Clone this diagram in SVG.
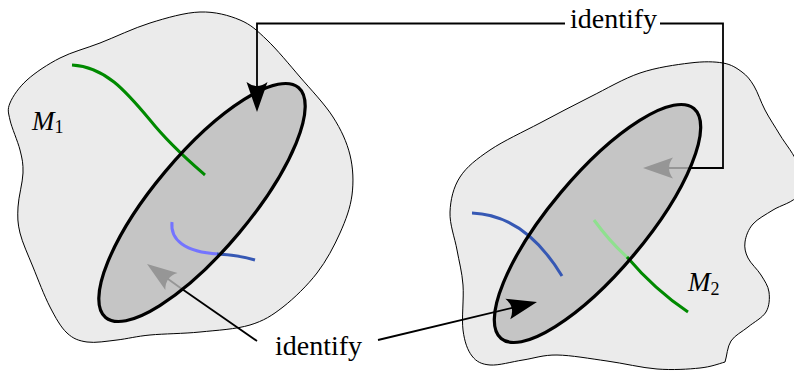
<svg xmlns="http://www.w3.org/2000/svg" width="794" height="374" viewBox="0 0 794 374">
<style>
.blob{fill:#ebebeb;stroke:#000;stroke-width:1}
.disc{fill:#c5c5c5;stroke:none}
.rim{fill:none;stroke:#000;stroke-width:3.2}
.curve{fill:none;stroke-width:3;stroke-linecap:butt}
.conn{fill:none;stroke:#000;stroke-width:1.8}
.connG{fill:none;stroke:#969696;stroke-width:1.8}
.lbl{font-family:"Liberation Serif","Times New Roman",serif;font-size:28px;fill:#000}
.math{font-family:"Liberation Serif","Times New Roman",serif;font-size:27px;font-style:italic;fill:#000}
.sub{font-style:normal;font-size:18px}
</style>
<defs>
<marker id="ahB" markerUnits="userSpaceOnUse" markerWidth="40" markerHeight="30" viewBox="-30 -15 40 30" refX="0" refY="0" orient="auto">
<path d="M4,0 L-26,-10.5 Q-18,0 -26,10.5 Z" fill="#000"/>
</marker>
<marker id="ahG" markerUnits="userSpaceOnUse" markerWidth="40" markerHeight="30" viewBox="-30 -15 40 30" refX="0" refY="0" orient="auto">
<path d="M4,0 L-26,-10.5 Q-18,0 -26,10.5 Z" fill="#969696"/>
</marker>
</defs>

<g id="M1">
<path class="blob" d="M10,103 C12.8,96.3 18.7,87.5 27,80 S47.8,64.2 60,58 S85,48.8 100,43 S133.3,28.2 150,23 S185,12.5 200,12 S228.8,15.3 240,20 S257,30.5 267,40 S289,64.2 300,77 S324.7,104 333,117 S346.8,142 350,155 S353.7,182 352,195 S345.8,220 340,233 S326.5,260.7 317,273 S294.2,298.3 283,307 S263.8,320.8 250,325 S216.7,330.3 200,332 S163.8,333.7 150,335 S127.5,338.8 117,340 S95.3,343.2 87,342 S73.2,338.8 67,333 S55.7,318 50,307 S38,279.3 33,267 S22.5,243 20,233 S17.5,217 18,207 S22.7,182.5 23,173 S22.2,158.8 20,150 S11.7,127.8 10,120 S7.2,109.7 10,103 Z"/>
<ellipse class="disc" cx="202" cy="202.5" rx="150" ry="48" transform="rotate(-50 202 202.5)"/>
<path class="curve" stroke="#008a00" d="M72,65 C105,67 125,90 150,120 C170,145 190,162 205,175"/>
<path class="curve" stroke="#7474ff" d="M172,222 C170,240 185,252 218,254"/>
<path class="curve" stroke="#3658b4" d="M217,254 C235,255 245,257 255,260"/>
<text class="math" x="32" y="130">M<tspan class="sub" dy="3">1</tspan></text>
</g>

<g id="M2">
<path class="blob" d="M450,212 C450.5,199.8 453.3,187.3 460,177 S476.7,159 490,150 S523.3,131.8 540,123 S573.3,105.3 590,97 S623.3,78.7 640,73 S676.2,64.7 690,63 S714.3,61.5 723,63 S736.8,68.2 742,72 S750.2,79.7 754,86 S760.7,101.8 765,110 S774.5,125.8 780,135 S795,155 798,165 S802.2,187.5 798,195 S780.5,205.2 773,210 S757.7,218.7 753,224 S745.8,236.3 745,242 S745.3,252.5 748,258 S757.5,269.3 761,275 S768.2,285.8 769,292 S769.5,306.2 766,312 S753.8,322.2 748,327 S734.8,335.2 731,341 S727,356 725,362 C718,364 711.3,366.8 700,368 S672.5,370.2 657,369 S623.7,363.3 607,361 S571,355.2 557,355 S534.2,358.3 523,360 S498.5,365.7 490,365 S476.5,361.8 472,356 S464.5,341.8 463,330 S464,298.3 463,285 S459.2,262.2 457,250 S449.5,224.2 450,212 Z"/>
<ellipse class="disc" cx="597.5" cy="223.5" rx="150" ry="48" transform="rotate(-50 597.5 223.5)"/>
<path class="curve" stroke="#3658b4" d="M472,213 Q525,215 562,276"/>
<path class="curve" stroke="#8fe08f" d="M594,220 Q610,242 628,258"/>
<path class="curve" stroke="#008a00" d="M627,257 Q655,290 688,312"/>
<text class="math" x="688" y="291">M<tspan class="sub" dy="4">2</tspan></text>
</g>

<g id="connectors">
<polyline class="conn" points="565,23.5 257,23.5 257,108" marker-end="url(#ahB)"/>
<polyline class="conn" points="660,23.5 723,23.5 723,168 690,168"/>
<line class="connG" x1="691" y1="168" x2="647" y2="168" marker-end="url(#ahG)"/>
<line class="conn" x1="257" y1="341" x2="182" y2="289"/>
<line class="connG" x1="183" y1="289.7" x2="150.3" y2="266.3" marker-end="url(#ahG)"/>
<line class="conn" x1="378" y1="340" x2="533.1" y2="302.9" marker-end="url(#ahB)"/>
</g>

<g id="rims">
<ellipse class="rim" cx="202" cy="202.5" rx="150" ry="48" transform="rotate(-50 202 202.5)"/>
<ellipse class="rim" cx="597.5" cy="223.5" rx="150" ry="48" transform="rotate(-50 597.5 223.5)"/>
</g>

<g id="labels">
<text class="lbl" x="570" y="28">identify</text>
<text class="lbl" x="275" y="355">identify</text>
</g>
</svg>
